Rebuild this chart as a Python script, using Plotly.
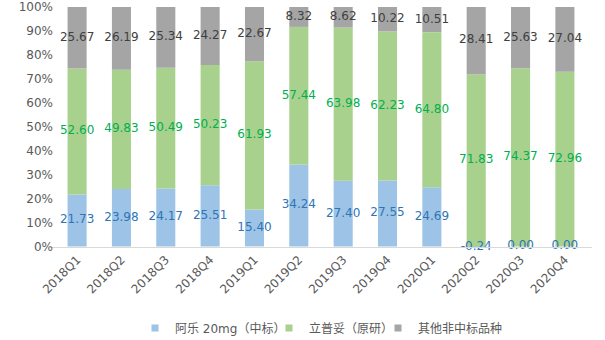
import plotly.graph_objects as go

categories = ["2018Q1", "2018Q2", "2018Q3", "2018Q4", "2019Q1", "2019Q2",
              "2019Q3", "2019Q4", "2020Q1", "2020Q2", "2020Q3", "2020Q4"]
ale = [21.73, 23.98, 24.17, 25.51, 15.40, 34.24, 27.40, 27.55, 24.69, -0.24, 0.00, 0.00]
lipitor = [52.60, 49.83, 50.49, 50.23, 61.93, 57.44, 63.98, 62.23, 64.80, 71.83, 74.37, 72.96]
others = [25.67, 26.19, 25.34, 24.27, 22.67, 8.32, 8.62, 10.22, 10.51, 28.41, 25.63, 27.04]

names = ["阿乐 20mg（中标）", "立普妥（原研）", "其他非中标品种"]
bar_colors = ["#9DC3E6", "#A9D18E", "#A5A5A5"]
text_colors = ["#2E75B6", "#00B050", "#404040"]
FONT = "DejaVu Sans, Noto Sans CJK SC"

fig = go.Figure()
series = [ale, lipitor, others]
for vals, name, c in zip(series, names, bar_colors):
    fig.add_trace(go.Bar(x=categories, y=vals, name=name, marker_color=c,
                         marker_line_width=0, showlegend=False, hoverinfo="skip"))

# legend proxies
for name, c, lw in zip(names, bar_colors, [89, 64, 84]):
    fig.add_trace(go.Scatter(x=[None], y=[None], mode="markers", name=name,
                             legendwidth=lw,
                             marker=dict(symbol="square", size=7, color=c)))

# labels at segment middles
base_pos = [0.0] * len(categories)
for vals, c in zip(series, text_colors):
    mids = []
    for i, v in enumerate(vals):
        if v < 0:
            mids.append(v / 2)
        else:
            mids.append(base_pos[i] + v / 2)
            base_pos[i] += v
    fig.add_trace(go.Scatter(x=categories, y=mids, mode="text",
                             text=[f"{v:.2f}" for v in vals],
                             textfont=dict(color=c, size=12, family=FONT),
                             showlegend=False, cliponaxis=False, hoverinfo="skip"))

fig.update_layout(
    barmode="relative",
    bargap=0.57,
    width=605, height=340,
    margin=dict(l=50, r=13, t=7, b=93),
    paper_bgcolor="white", plot_bgcolor="white",
    font=dict(family=FONT, size=12, color="#595959"),
    legend=dict(orientation="h", x=0.5, xanchor="center",
                yref="container", y=0.035, yanchor="middle",
                font=dict(size=12, color="#595959"), itemwidth=30),
)
fig.update_xaxes(tickangle=-45, showline=True, linecolor="#D9D9D9", linewidth=1,
                 showgrid=False, ticks="", automargin=False,
                 tickfont=dict(size=12, color="#595959"))
fig.update_yaxes(range=[-0.25, 100], tickvals=list(range(0, 101, 10)),
                 ticktext=[f"{v}%" for v in range(0, 101, 10)],
                 showgrid=False, zeroline=False, showline=False, automargin=False,
                 ticklabelstandoff=-4,
                 tickfont=dict(size=12, color="#595959"))

fig.write_html("out.html")
